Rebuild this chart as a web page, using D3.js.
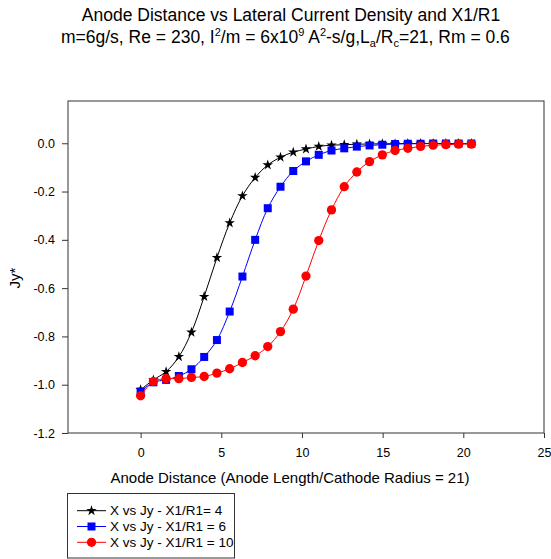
<!DOCTYPE html>
<html><head><meta charset="utf-8">
<script src="https://cdn.jsdelivr.net/npm/d3@7/dist/d3.min.js"></script>
<style>body{margin:0;background:#fff}svg{display:block;font-family:Arial,"Liberation Sans",sans-serif}</style>
</head><body>
<svg id="c" width="551" height="559"></svg>
<script>
const xValues = [0, 0.79, 1.58, 2.37, 3.15, 3.94, 4.73, 5.52, 6.31, 7.1, 7.88, 8.67, 9.46, 10.25, 11.04, 11.83, 12.62, 13.4, 14.19, 14.98, 15.77, 16.56, 17.35, 18.13, 18.92, 19.71, 20.5];
const jyR4 = [-1.021, -0.98, -0.946, -0.884, -0.783, -0.635, -0.474, -0.33, -0.218, -0.142, -0.09, -0.058, -0.037, -0.024, -0.013, -0.008, -0.006, -0.004, -0.003, -0.002, -0.002, -0.001, -0.001, -0.001, -0.001, -0.001, -0.001];
const jyR6 = [-1.028, -0.99, -0.98, -0.964, -0.936, -0.885, -0.815, -0.697, -0.552, -0.40, -0.269, -0.18, -0.115, -0.075, -0.048, -0.03, -0.021, -0.014, -0.009, -0.006, -0.003, -0.002, -0.002, -0.001, -0.001, -0.001, -0.001];
const jyR10 = [-1.046, -0.987, -0.975, -0.975, -0.97, -0.966, -0.952, -0.934, -0.908, -0.88, -0.842, -0.78, -0.687, -0.55, -0.403, -0.276, -0.18, -0.119, -0.076, -0.048, -0.03, -0.021, -0.013, -0.008, -0.006, -0.004, -0.004];
const seriesNames = ["X vs Jy - X1/R1= 4", "X vs Jy - X1/R1 = 6", "X vs Jy - X1/R1 = 10"];
const xTicks = [0, 5, 10, 15, 20, 25];
const yTicks = [0.0, -0.2, -0.4, -0.6, -0.8, -1.0, -1.2];

const svg = d3.select("#c");
const L = 68, R = 544, T = 101, B = 433;
const x = d3.scaleLinear().domain([-4.5, 25]).range([L, R]);
const y = d3.scaleLinear().domain([-1.2, 0.175]).range([B, T]);

// Title
const t = svg.append("text").attr("font-size", 17.5).attr("fill", "#000");
t.append("tspan").attr("x", 291).attr("y", 21).attr("text-anchor", "middle")
  .text("Anode Distance vs Lateral Current Density and X1/R1");
const t2 = svg.append("text").attr("font-size", 17.5).attr("fill", "#000").attr("x", 61).attr("y", 43);
const parts = [["m=6g/s, Re = 230, I",0],["2",1],["/m = 6x10",0],["9",1],[" A",0],["2",1],["-s/g,L",0],["a",-1],["/R",0],["c",-1],["=21, Rm = 0.6",0]];
parts.forEach(([s, k]) => {
  const sp = t2.append("tspan").text(s);
  if (k === 1) sp.attr("font-size", 11).attr("dy", -7);
  else if (k === -1) sp.attr("font-size", 11).attr("dy", 4);
  sp.attr("_k", k);
});
// reset baselines after super/sub
t2.selectAll("tspan").each(function(d, i, n) {
  const k = +this.getAttribute("_k");
  const prev = i > 0 ? +n[i-1].getAttribute("_k") : 0;
  if (k === 0 && prev === 1) d3.select(this).attr("dy", 7);
  if (k === 0 && prev === -1) d3.select(this).attr("dy", -4);
});

// Axes
const yAxis = d3.axisLeft(y).tickValues(yTicks).tickFormat(d3.format(".1f")).tickSize(6).tickPadding(7).tickSizeOuter(0);
const gy = svg.append("g").attr("transform", `translate(${L},0)`).call(yAxis);
const xAxis = d3.axisBottom(x).tickValues(xTicks).tickFormat(d3.format("d")).tickSize(5).tickPadding(10).tickSizeOuter(0);
const gx = svg.append("g").attr("transform", `translate(0,${B})`).call(xAxis);
[gx, gy].forEach(g => {
  g.select(".domain").remove();
  g.selectAll("line").attr("stroke", "#333");
  g.selectAll("text").attr("font-size", 12.5).attr("fill", "#000").attr("font-family", "Arial, 'Liberation Sans', sans-serif");
});
gy.selectAll("text").text(d => d === 0 ? "0.0" : d3.format(".1f")(d).replace("−", "-"));

svg.append("rect").attr("x", L).attr("y", T).attr("width", R - L).attr("height", B - T)
  .attr("fill", "none").attr("stroke", "#333").attr("stroke-width", 1);

// Axis titles
svg.append("text").attr("x", 290).attr("y", 482.5).attr("text-anchor", "middle").attr("font-size", 15)
  .text("Anode Distance (Anode Length/Cathode Radius = 21)");
svg.append("text").attr("transform", "translate(20,278) rotate(-90)").attr("text-anchor", "middle").attr("font-size", 15)
  .text("Jy*");

// Series
const series = [
  {vals: jyR4, color: "#000", sym: d3.symbolStar, size: 34},
  {vals: jyR6, color: "#0000ff", sym: d3.symbolSquare, size: 64},
  {vals: jyR10, color: "#ff0000", sym: d3.symbolCircle, size: 68}
];
const line = d3.line().x(d => x(d[0])).y(d => y(d[1])).curve(d3.curveCatmullRom.alpha(0.5));
series.forEach(s => {
  const pts = xValues.map((xv, i) => [xv, s.vals[i]]);
  svg.append("path").attr("d", line(pts)).attr("fill", "none").attr("stroke", s.color).attr("stroke-width", 1);
  svg.append("g").selectAll("path").data(pts).join("path")
    .attr("transform", d => `translate(${x(d[0])},${y(d[1])})`)
    .attr("d", d3.symbol().type(s.sym).size(s.size)())
    .attr("fill", s.color);
});

// Legend
svg.append("rect").attr("x", 67.5).attr("y", 493.5).attr("width", 167).attr("height", 64.5)
  .attr("fill", "#fff").attr("stroke", "#333").attr("stroke-width", 1);
series.forEach((s, i) => {
  const cy = 510.7 + i * 15.8;
  svg.append("line").attr("x1", 77).attr("x2", 106).attr("y1", cy).attr("y2", cy).attr("stroke", s.color).attr("stroke-width", 1);
  svg.append("path").attr("transform", `translate(91.5,${cy})`).attr("d", d3.symbol().type(s.sym).size(s.size)()).attr("fill", s.color);
  svg.append("text").attr("x", 110).attr("y", cy + 4.5).attr("font-size", 13.5).text(seriesNames[i]);
});
</script>
</body></html>
